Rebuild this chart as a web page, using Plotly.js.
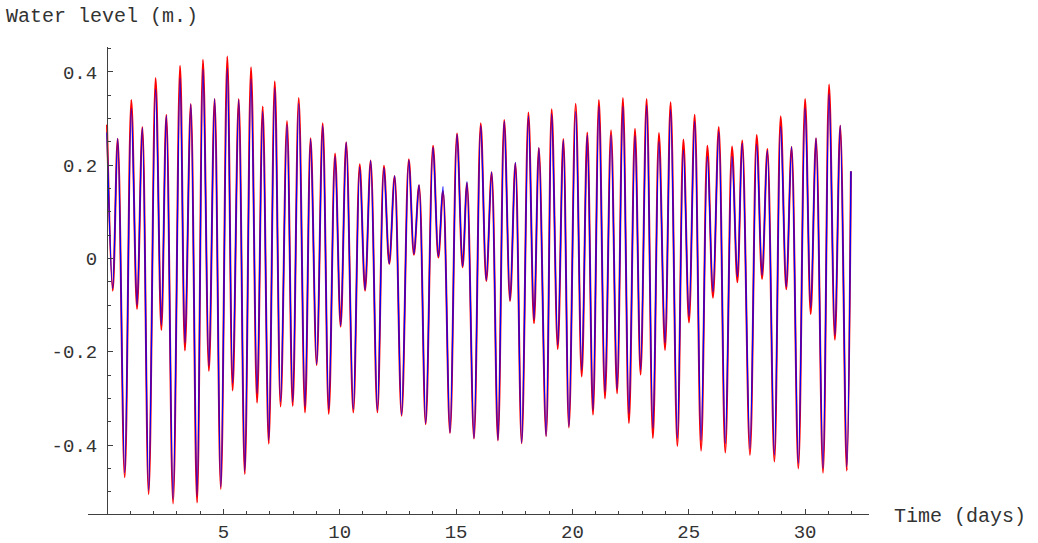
<!DOCTYPE html>
<html>
<head>
<meta charset="utf-8">
<script src="https://cdn.plot.ly/plotly-3.0.1.min.js"></script>
<style>html,body{margin:0;padding:0;background:#fff;}#chart{width:1038px;height:543px;}</style>
</head>
<body>
<div id="chart"></div>
<script>
// Time (days) of each turning point
const timeDays = [0.00,0.245,0.46,0.76,1.045,1.29,1.52,1.79,2.09,2.335,2.55,2.84,3.14,3.35,3.60,3.87,4.125,4.38,4.625,4.89,5.17,5.40,5.66,5.92,6.19,6.45,6.69,6.95,7.21,7.46,7.735,7.98,8.24,8.51,8.75,9.01,9.27,9.53,9.80,10.04,10.28,10.585,10.86,11.09,11.33,11.62,11.90,12.13,12.36,12.66,12.97,13.19,13.41,13.695,14.01,14.24,14.44,14.74,15.04,15.28,15.47,15.77,16.06,16.30,16.53,16.80,17.07,17.32,17.55,17.82,18.11,18.35,18.56,18.87,19.11,19.37,19.61,19.85,20.14,20.40,20.64,20.885,21.14,21.40,21.66,21.92,22.17,22.43,22.69,22.93,23.19,23.46,23.72,23.98,24.22,24.51,24.77,25.01,25.255,25.53,25.80,26.04,26.29,26.57,26.86,27.09,27.30,27.63,27.92,28.15,28.38,28.68,28.95,29.19,29.42,29.71,30.00,30.24,30.47,30.77,31.03,31.28,31.51,31.79,31.97];

// Water level (m.), red series
const redLevel = [0.287,-0.069,0.257,-0.469,0.340,-0.108,0.282,-0.505,0.387,-0.153,0.308,-0.525,0.413,-0.197,0.331,-0.523,0.426,-0.241,0.342,-0.494,0.433,-0.283,0.342,-0.462,0.410,-0.309,0.326,-0.397,0.380,-0.317,0.295,-0.316,0.344,-0.330,0.258,-0.228,0.290,-0.333,0.225,-0.146,0.249,-0.330,0.202,-0.069,0.210,-0.330,0.199,-0.012,0.177,-0.337,0.213,0.008,0.157,-0.355,0.242,0.002,0.145,-0.374,0.268,-0.019,0.162,-0.386,0.290,-0.048,0.185,-0.390,0.297,-0.091,0.204,-0.396,0.313,-0.139,0.237,-0.381,0.320,-0.194,0.256,-0.362,0.332,-0.253,0.270,-0.335,0.340,-0.300,0.275,-0.289,0.344,-0.353,0.278,-0.249,0.342,-0.385,0.269,-0.196,0.335,-0.402,0.255,-0.137,0.308,-0.412,0.242,-0.084,0.282,-0.416,0.240,-0.051,0.253,-0.421,0.265,-0.044,0.235,-0.435,0.305,-0.066,0.239,-0.450,0.342,-0.119,0.258,-0.459,0.373,-0.174,0.285,-0.455,0.187];

// Water level (m.), blue series
const blueLevel = [0.270,-0.064,0.257,-0.459,0.321,-0.100,0.280,-0.497,0.363,-0.142,0.306,-0.516,0.387,-0.181,0.331,-0.509,0.406,-0.230,0.342,-0.490,0.408,-0.267,0.340,-0.456,0.385,-0.289,0.315,-0.389,0.365,-0.307,0.287,-0.307,0.332,-0.317,0.256,-0.226,0.285,-0.323,0.219,-0.144,0.249,-0.323,0.196,-0.067,0.210,-0.325,0.194,-0.011,0.177,-0.335,0.211,0.010,0.158,-0.353,0.238,0.004,0.154,-0.373,0.266,-0.017,0.165,-0.385,0.285,-0.046,0.185,-0.389,0.294,-0.089,0.206,-0.395,0.305,-0.131,0.237,-0.380,0.310,-0.185,0.254,-0.360,0.315,-0.239,0.265,-0.325,0.326,-0.285,0.265,-0.280,0.326,-0.332,0.263,-0.239,0.328,-0.364,0.251,-0.181,0.319,-0.385,0.233,-0.124,0.294,-0.389,0.219,-0.071,0.272,-0.396,0.219,-0.039,0.247,-0.407,0.244,-0.035,0.232,-0.421,0.283,-0.060,0.239,-0.439,0.323,-0.106,0.258,-0.450,0.353,-0.164,0.285,-0.446,0.187];

const xTickVals = [5,10,15,20,25,30];
const xTickText = ['5','10','15','20','25','30'];
const yTickVals = [-0.4,-0.2,0,0.2,0.4];
const yTickText = ['-0.4','-0.2','0','0.2','0.4'];

const FONT = '"Liberation Mono", "Courier New", monospace';
const TXT = '#333333';
const AX = '#404040';

const traces = [
  {x: timeDays, y: redLevel, type: 'scatter', mode: 'lines',
   line: {color: '#ff0000', width: 2, shape: 'spline', smoothing: 1}, hoverinfo: 'x+y'},
  {x: timeDays, y: blueLevel, type: 'scatter', mode: 'lines',
   line: {color: '#0000ff', width: 1.3, shape: 'spline', smoothing: 1}, hoverinfo: 'x+y'}
];

const layout = {
  width: 1038, height: 543,
  margin: {l: 88, r: 169, t: 47, b: 29, pad: 0},
  paper_bgcolor: '#ffffff', plot_bgcolor: '#ffffff',
  showlegend: false,
  font: {family: FONT, size: 19, color: TXT},
  xaxis: {
    range: [-0.8165, 32.746], showgrid: false, zeroline: false,
    showline: true, linecolor: AX, linewidth: 1.3,
    tickmode: 'array', tickvals: xTickVals, ticktext: xTickText,
    ticks: 'inside', ticklen: 5, tickwidth: 1, tickcolor: AX,
    ticklabelstandoff: 0,
    minor: {tickmode: 'linear', tick0: 0, dtick: 1, ticks: 'inside', ticklen: 3, tickwidth: 1, tickcolor: AX, showgrid: false},
    tickfont: {family: FONT, size: 19, color: TXT}
  },
  yaxis: {
    range: [-0.5476, 0.4534], showgrid: false, zeroline: false,
    anchor: 'free', position: 0.02433,
    showline: true, linecolor: AX, linewidth: 1.3,
    tickmode: 'array', tickvals: yTickVals, ticktext: yTickText,
    ticks: 'inside', ticklen: 5, tickwidth: 1, tickcolor: AX,
    ticklabelstandoff: 6,
    minor: {tickmode: 'linear', tick0: 0, dtick: 0.05, ticks: 'inside', ticklen: 3, tickwidth: 1, tickcolor: AX, showgrid: false},
    tickfont: {family: FONT, size: 19, color: TXT}
  },
  annotations: [
    {text: 'Water level (m.)', xref: 'paper', yref: 'paper', x: -0.1075, y: 1.066,
     xanchor: 'left', yanchor: 'middle', showarrow: false, font: {family: FONT, size: 20, color: TXT}},
    {text: 'Time (days)', xref: 'paper', yref: 'paper', x: 1.030, y: -0.006,
     xanchor: 'left', yanchor: 'middle', showarrow: false, font: {family: FONT, size: 20, color: TXT}}
  ]
};

Plotly.newPlot('chart', traces, layout, {displayModeBar: false, staticPlot: true});
</script>
</body>
</html>
